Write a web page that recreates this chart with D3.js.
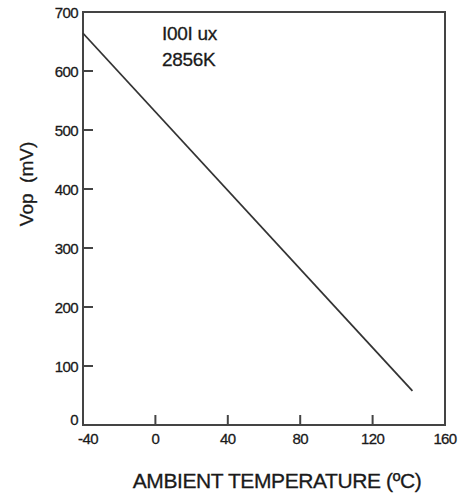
<!DOCTYPE html>
<html><head><meta charset="utf-8">
<script src="https://cdn.jsdelivr.net/npm/d3@7"></script>
<style>body{margin:0;background:#fff}svg{display:block}</style>
</head><body>
<script>
const temps = [-40, 142];
const vop = [664, 58];
const xTicks = [-40, 0, 40, 80, 120, 160];
const yTicks = [0, 100, 200, 300, 400, 500, 600, 700];
const notes = ["I00I ux", "2856K"];
const xTitle = "AMBIENT TEMPERATURE (ºC)";
const yTitle = "Vop  (mV)";

const W = 464, H = 495;
const svg = d3.select("body").append("svg").attr("width", W).attr("height", H);
const x = d3.scaleLinear().domain([-40, 160]).range([83, 445]);
const y = d3.scaleLinear().domain([0, 700]).range([425, 12]);
const font = "Liberation Sans, Arial, sans-serif";
const axisCol = "#444";
const txtCol = "#1a1a1a";

function styleText(sel, size, ls) {
  return sel.attr("font-family", font).attr("font-size", size)
    .attr("letter-spacing", ls).attr("fill", txtCol)
    .attr("stroke", txtCol).attr("stroke-width", 0.3);
}

// frame
svg.append("rect").attr("x", x(-40)).attr("y", y(700))
  .attr("width", x(160) - x(-40)).attr("height", y(0) - y(700))
  .attr("fill", "none").attr("stroke", axisCol).attr("stroke-width", 2);

// y ticks (inward)
const yIn = yTicks.filter(d => d > 0 && d < 700);
svg.selectAll(".yt").data(yIn).enter().append("line")
  .attr("x1", x(-40)).attr("x2", x(-40) + 10)
  .attr("y1", d => y(d)).attr("y2", d => y(d))
  .attr("stroke", axisCol).attr("stroke-width", 2);
styleText(svg.selectAll(".yl").data(yTicks).enter().append("text")
  .attr("x", x(-40) - 5).attr("y", d => d === 0 ? y(d) : y(d) + 5.5)
  .attr("text-anchor", "end"), 15, -0.6).text(d => d);

// x ticks (inward)
const xIn = xTicks.filter(d => d > -40 && d < 160);
svg.selectAll(".xt").data(xIn).enter().append("line")
  .attr("x1", d => x(d)).attr("x2", d => x(d))
  .attr("y1", y(0)).attr("y2", y(0) - 10)
  .attr("stroke", axisCol).attr("stroke-width", 2);
styleText(svg.selectAll(".xl").data(xTicks).enter().append("text")
  .attr("x", d => d === -40 ? x(d) + 5 : x(d)).attr("y", y(0) + 19)
  .attr("text-anchor", "middle"), 15, -0.6).text(d => d);

// data line
const pts = temps.map((t, i) => [t, vop[i]]);
svg.append("path").datum(pts)
  .attr("d", d3.line().x(d => x(d[0])).y(d => y(d[1])))
  .attr("fill", "none").attr("stroke", "#333").attr("stroke-width", 1.8);

// notes
styleText(svg.selectAll(".note").data(notes).enter().append("text")
  .attr("x", 162).attr("y", (d, i) => 40 + i * 26), 19, -0.3).text(d => d);

// titles
styleText(svg.append("text").attr("x", 277).attr("y", 488)
  .attr("text-anchor", "middle"), 21, -0.4).text(xTitle);
styleText(svg.append("text").attr("transform", "translate(33,184) rotate(-90)")
  .attr("text-anchor", "middle").style("white-space", "pre"), 19, 0).text(yTitle);
</script>
</body></html>
